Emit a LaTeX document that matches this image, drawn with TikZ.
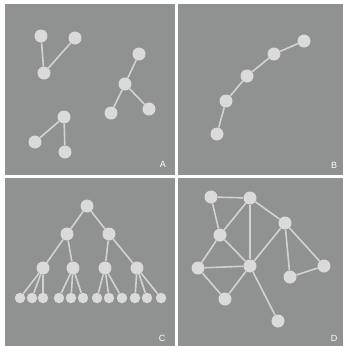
\documentclass[tikz,border=0pt]{standalone}
\usepackage{fontspec}
\setmainfont{Liberation Sans}
\definecolor{panel}{HTML}{8F9290}
\definecolor{nodefill}{HTML}{DADADA}
\definecolor{edgecol}{HTML}{D2D2D2}
\tikzset{
  panelbox/.style={fill=panel, draw=none},
  vtx/.style={circle, fill=nodefill, draw=none, minimum size=13pt, inner sep=0pt},
  leaf/.style={circle, fill=nodefill, draw=none, minimum size=10.5pt, inner sep=0pt},
  edge/.style={draw=edgecol, line width=1.6pt},
  plabel/.style={text=white, font=\fontsize{9}{9}\selectfont, inner sep=0pt}
}
\begin{document}
\begin{tikzpicture}[x=1pt,y=-1pt]
\useasboundingbox (0,0) rectangle (343,346);
\fill[white] (0,0) rectangle (343,346);
\fill[panelbox] (5,4) rectangle (174.5,174.5);
\fill[panelbox] (177.5,4) rectangle (343,174.5);
\fill[panelbox] (5,177.5) rectangle (174.5,346);
\fill[panelbox] (177.5,177.5) rectangle (343,346);

% Panel A
\node[vtx] (a1) at (41,36) {};
\node[vtx] (a2) at (75,38) {};
\node[vtx] (a3) at (44,73) {};
\node[vtx] (b1) at (139,54) {};
\node[vtx] (b2) at (125,84) {};
\node[vtx] (b3) at (111,113) {};
\node[vtx] (b4) at (149,109) {};
\node[vtx] (c1) at (64,117) {};
\node[vtx] (c2) at (35,142) {};
\node[vtx] (c3) at (65,152) {};
\node[plabel] (la) at (163,164) {A};

% Panel B
\node[vtx] (p1) at (304,41) {};
\node[vtx] (p2) at (274,54) {};
\node[vtx] (p3) at (247,76) {};
\node[vtx] (p4) at (226,101) {};
\node[vtx] (p5) at (217,134) {};
\node[plabel] (lb) at (334,165) {B};

% Panel C
\node[vtx] (r) at (87,206) {};
\node[vtx] (m1) at (67,234) {};
\node[vtx] (m2) at (109,234) {};
\node[vtx] (n1) at (43,268) {};
\node[vtx] (n2) at (73,268) {};
\node[vtx] (n3) at (105,268) {};
\node[vtx] (n4) at (137,268) {};
\foreach \i/\x in {1/20,2/32,3/43,4/59,5/71,6/83,7/97,8/109,9/122,10/135,11/147,12/161}
  \node[leaf] (f\i) at (\x,298) {};
\node[plabel] (lc) at (162,338) {C};

% Panel D
\node[vtx] (d1) at (211,197) {};
\node[vtx] (d2) at (250,198) {};
\node[vtx] (d3) at (220,235) {};
\node[vtx] (d4) at (285,223) {};
\node[vtx] (d5) at (198,268) {};
\node[vtx] (d6) at (250,266) {};
\node[vtx] (d7) at (290,277) {};
\node[vtx] (d8) at (324,266) {};
\node[vtx] (d9) at (225,299) {};
\node[vtx] (d10) at (278,321) {};
\node[plabel] (ld) at (334,338) {D};

\begin{scope}[edge]
\draw (a1) -- (a3); \draw (a2) -- (a3);
\draw (b1) -- (b2); \draw (b2) -- (b3); \draw (b2) -- (b4);
\draw (c1) -- (c2); \draw (c1) -- (c3);
\draw (p1) -- (p2); \draw (p2) -- (p3); \draw (p3) -- (p4); \draw (p4) -- (p5);
\draw (r) -- (m1); \draw (r) -- (m2);
\draw (m1) -- (n1); \draw (m1) -- (n2); \draw (m2) -- (n3); \draw (m2) -- (n4);
\draw (n1) -- (f1); \draw (n1) -- (f2); \draw (n1) -- (f3);
\draw (n2) -- (f4); \draw (n2) -- (f5); \draw (n2) -- (f6);
\draw (n3) -- (f7); \draw (n3) -- (f8); \draw (n3) -- (f9);
\draw (n4) -- (f10); \draw (n4) -- (f11); \draw (n4) -- (f12);
\draw (d1) -- (d2); \draw (d1) -- (d3); \draw (d2) -- (d3);
\draw (d2) -- (d6); \draw (d2) -- (d4); \draw (d3) -- (d5);
\draw (d3) -- (d6); \draw (d4) -- (d6); \draw (d4) -- (d7);
\draw (d4) -- (d8); \draw (d7) -- (d8); \draw (d5) -- (d6);
\draw (d5) -- (d9); \draw (d6) -- (d9); \draw (d6) -- (d10);
\end{scope}
\end{tikzpicture}
\end{document}
